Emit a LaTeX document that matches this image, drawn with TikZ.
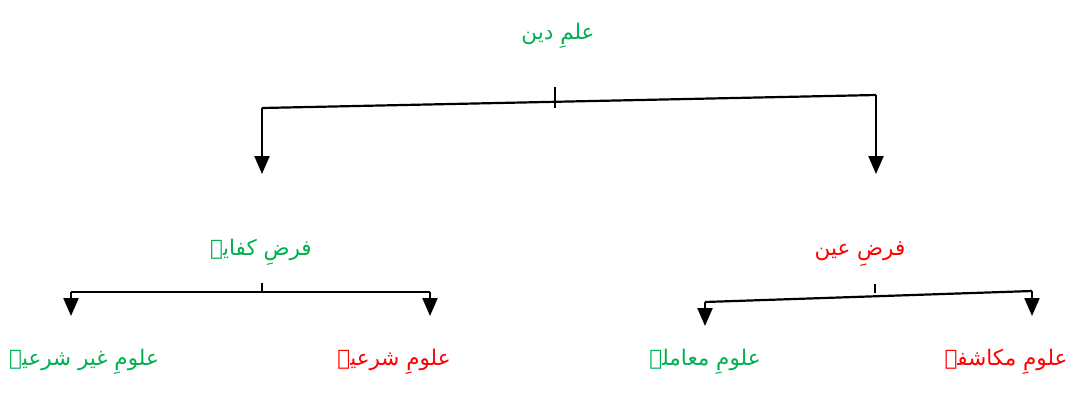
\documentclass[tikz,border=0pt]{standalone}
\usepackage{fontspec}
\newfontfamily\urdufont[Script=Arabic]{DejaVu Sans}
\TeXXeTstate=1
\usetikzlibrary{arrows.meta}
\definecolor{lgreen}{RGB}{0,176,80}
\definecolor{lred}{RGB}{255,0,0}

\begin{document}
\begin{tikzpicture}[x=1pt,y=-1pt,
  lbl/.style={font=\urdufont\fontsize{21.5}{26}\selectfont,inner sep=0pt},
  brk/.style={line width=2.2pt},
  arr/.style={brk,-{Triangle[length=18pt,width=15pt]}}]
\useasboundingbox (0,0) rectangle (1073,397);
% labels
\node[lbl,lgreen] (ilm) at (558,36) {\beginR علمِ دین\endR};
\node[lbl,lgreen] (kifaya) at (261,252) {\beginR فرضِ کفایہ\endR};
\node[lbl,lred] (ain) at (860,254) {\beginR فرضِ عین\endR};
\node[lbl,lgreen] (ghair) at (84,362) {\beginR علومِ غیر شرعیہ\endR};
\node[lbl,lred] (shariya) at (394,362) {\beginR علومِ شرعیہ\endR};
\node[lbl,lgreen] (muamala) at (705,362) {\beginR علومِ معاملہ\endR};
\node[lbl,lred] (mukashifa) at (1006,362) {\beginR علومِ مکاشفہ\endR};
% top bracket
\coordinate (t0) at (555,87);
\coordinate (t1) at (555,108);
\coordinate (tl) at (262,108);
\coordinate (tr) at (876,95);
\draw[brk] (t0) -- (t1);
\draw[brk] (tl) -- (tr);
\draw[arr] (tl) -- (262,174);
\draw[arr] (tr) -- (876,174);
% left bracket
\coordinate (k0) at (262,283);
\coordinate (kl) at (71,292);
\coordinate (kr) at (430,292);
\draw[brk] (k0) -- (262,292);
\draw[brk] (kl) -- (kr);
\draw[arr] (kl) -- (71,316);
\draw[arr] (kr) -- (430,316);
% right bracket
\coordinate (a0) at (875,284);
\coordinate (al) at (705,302);
\coordinate (ar) at (1032,291);
\draw[brk] (a0) -- (875,293);
\draw[brk] (al) -- (ar);
\draw[arr] (al) -- (705,326);
\draw[arr] (ar) -- (1032,316);
\end{tikzpicture}
\end{document}
